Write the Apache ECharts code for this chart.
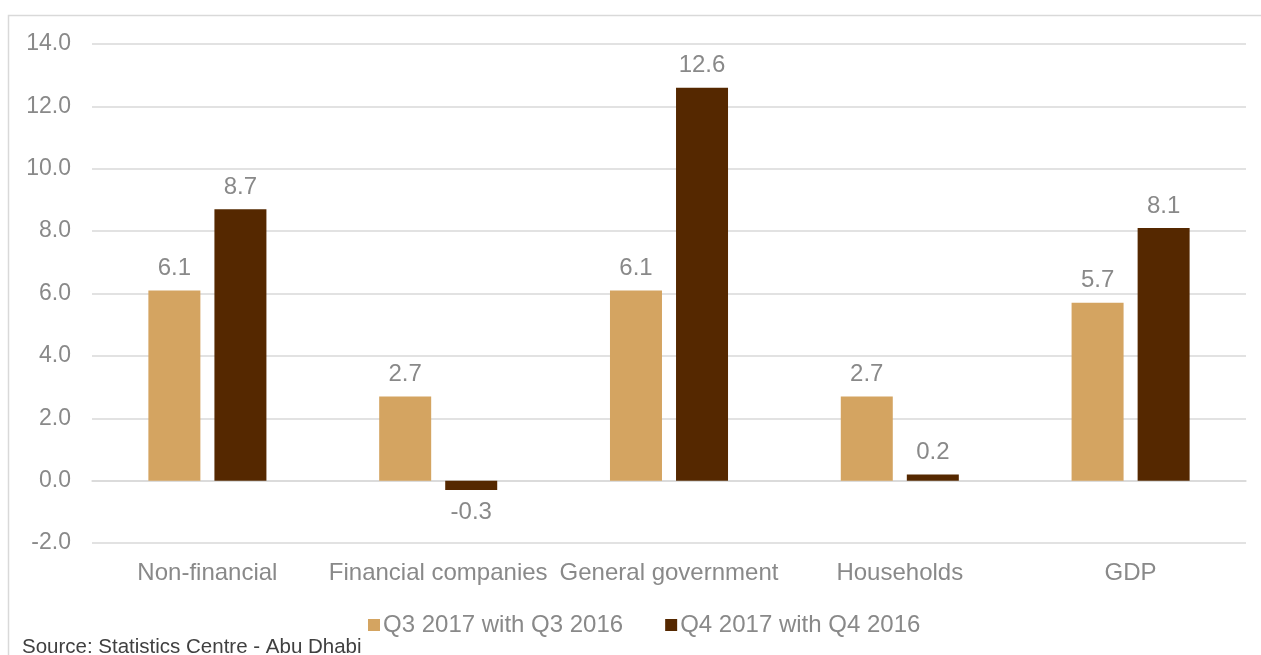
<!DOCTYPE html>
<html><head><meta charset="utf-8">
<script src="https://cdn.jsdelivr.net/npm/echarts@6/dist/echarts.min.js"></script>
<style>html,body{margin:0;padding:0;background:#fff}#c{width:1261px;height:655px}</style>
</head><body><div id="c"></div>
<script>
const categories = ["Non-financial", "Financial companies", "General government", "Households", "GDP"];
const seriesNames = ["Q3 2017 with Q3 2016", "Q4 2017 with Q4 2016"];
const q3Values = [6.1, 2.7, 6.1, 2.7, 5.7];
const q4Values = [8.7, -0.3, 12.6, 0.2, 8.1];
const yTicks = { min: -2, max: 14, interval: 2 };
const sourceText = "Source: Statistics Centre - Abu Dhabi";

const font = "'Liberation Sans', Arial, sans-serif";
const gray = "#898989";
const chart = echarts.init(document.getElementById('c'));
const labelCfg = {
  show: true, position: 'top', distance: 10, color: gray, fontSize: 24, fontFamily: font,
  formatter: p => p.value.toFixed(1)
};
chart.setOption({
  animation: false,
  graphic: [
    { type: 'rect', shape: { x: 8.5, y: 15.5, width: 1300, height: 700 }, style: { fill: 'none', stroke: '#d9d9d9', lineWidth: 1.5 }, z: -1 },
    { type: 'text', left: 22, top: 637, style: { text: sourceText, fill: '#404040', fontSize: 20.5, fontFamily: font } }
  ],
  grid: { left: 92, right: 15, top: 44, bottom: 112 },
  legend: {
    data: seriesNames, left: 363, top: 608, itemWidth: 12, itemHeight: 12, itemGap: 42,
    icon: 'rect', textStyle: { color: gray, fontSize: 24, fontFamily: font, padding: [0, 0, 0, -2] }
  },
  xAxis: {
    type: 'category', data: categories,
    axisLine: { lineStyle: { color: '#d9d9d9', width: 1.5 } },
    axisTick: { show: false },
    axisLabel: { color: gray, fontSize: 24, fontFamily: font, margin: 18, interval: 0 }
  },
  yAxis: {
    type: 'value', min: yTicks.min, max: yTicks.max, interval: yTicks.interval,
    axisLine: { show: false }, axisTick: { show: false },
    axisLabel: { color: gray, fontSize: 23, fontFamily: font, margin: 21, formatter: v => v.toFixed(1) },
    splitLine: { lineStyle: { color: '#d9d9d9', width: 1.5 } }
  },
  series: [
    { name: seriesNames[0], type: 'bar', data: q3Values, itemStyle: { color: '#D4A461' },
      barWidth: 52, barGap: '27%', label: labelCfg },
    { name: seriesNames[1], type: 'bar', itemStyle: { color: '#552800' }, barWidth: 52,
      data: q4Values.map(v => v < 0 ? { value: v, label: { position: 'bottom' } } : v),
      label: labelCfg }
  ]
});
</script></body></html>
